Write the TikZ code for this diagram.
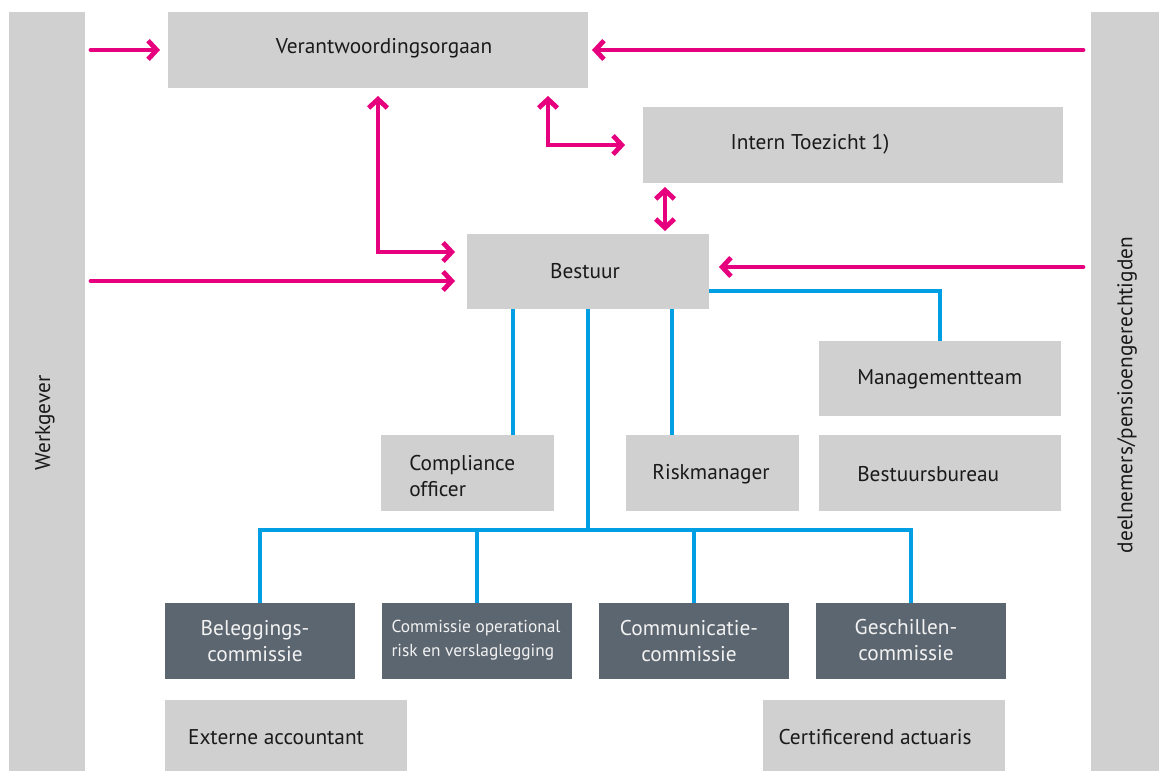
\documentclass[tikz,border=0pt]{standalone}
\usepackage{fontspec}
\setmainfont{PT Sans}
\usetikzlibrary{arrows.meta}
\definecolor{boxgray}{HTML}{D0D0D0}
\definecolor{darkbox}{HTML}{5C6670}
\definecolor{magentaline}{HTML}{E6007E}
\definecolor{blueline}{HTML}{009FE3}
\definecolor{textblack}{HTML}{1A1A1A}
\definecolor{textwhite}{HTML}{F2F2F2}
\begin{document}
\begin{tikzpicture}[x=0.75pt,y=-0.75pt,
  box/.style 2 args={fill=boxgray, draw=none, minimum width=#1, minimum height=#2, inner sep=0pt, outer sep=0pt},
  dbox/.style 2 args={fill=darkbox, draw=none, minimum width=#1, minimum height=#2, inner sep=0pt, outer sep=0pt},
  txt/.style={font=\fontsize{16}{19.5}\selectfont, text=textblack, inner sep=0pt},
  wtxt/.style={font=\fontsize{16}{19.5}\selectfont, text=textwhite, inner sep=0pt, align=center},
  stxt/.style={font=\fontsize{13}{18}\selectfont, text=textwhite, inner sep=0pt, align=left},
  marrow/.style={draw=magentaline, line width=3.6pt, line cap=round, -{Straight Barb[length=6.5pt,width=14pt]}},
  mdarrow/.style={draw=magentaline, line width=3.6pt, {Straight Barb[length=6.5pt,width=14pt]}-{Straight Barb[length=6.5pt,width=14pt]}},
  bline/.style={draw=blueline, line width=3.6pt, line join=miter}
]
\useasboundingbox (0,0) rectangle (1159,771);

% side bars
\node[box={57pt}{569.25pt}] (werk) at (47,391.5) {};
\node[box={51pt}{569.25pt}] (deel) at (1125,391.5) {};
\node[txt, rotate=90] (werk-t) at (45,423) {Werkgever};
\node[txt, rotate=90] (deel-t) at (1127,395) {deelnemers/pensioengerechtigden};

% grey boxes
\node[box={315pt}{57pt}] (vo) at (378,50) {};
\node[txt] (vo-t) at (384,48) {Verantwoordingsorgaan};
\node[box={315pt}{57pt}] (it) at (853,145) {};
\node[txt] (it-t) at (810,144) {Intern Toezicht 1)};
\node[box={181.5pt}{56.25pt}] (bestuur) at (588,271.5) {};
\node[txt] (bestuur-t) at (585,271) {Bestuur};
\node[box={181.5pt}{56.25pt}] (mt) at (940,378.5) {};
\node[txt, anchor=west] (mt-t) at (857,379) {Managementteam};
\node[box={181.5pt}{57pt}] (bb) at (940,473) {};
\node[txt, anchor=west] (bb-t) at (857,474) {Bestuursbureau};
\node[box={129.75pt}{57pt}] (co) at (467.5,473) {};
\node[txt, anchor=west, align=left] (co-t) at (409,476) {Compliance\\officer};
\node[box={129.75pt}{57pt}] (rm) at (712.5,473) {};
\node[txt] (rm-t) at (711,474) {Riskmanager};

% dark boxes
\node[dbox={142.5pt}{57pt}] (bc) at (260,641) {};
\node[wtxt] (bc-t) at (255,641) {Beleggings-\\commissie};
\node[dbox={142.5pt}{57pt}] (cor) at (477,641) {};
\node[stxt] (cor-t) at (476,640) {Commissie operational\\risk en verslaglegging};
\node[dbox={142.5pt}{57pt}] (cc) at (694,641) {};
\node[wtxt] (cc-t) at (689,641) {Communicatie-\\commissie};
\node[dbox={142.5pt}{57pt}] (gc) at (911,641) {};
\node[wtxt] (gc-t) at (906,640) {Geschillen-\\commissie};

% bottom boxes
\node[box={181.5pt}{53.25pt}] (ea) at (286,735.5) {};
\node[txt] (ea-t) at (276,737) {Externe accountant};
\node[box={181.5pt}{53.25pt}] (ca) at (884,735.5) {};
\node[txt] (ca-t) at (875,737) {Certificerend actuaris};

% magenta arrows
\draw[marrow, shorten <=4.5pt, shorten >=6pt] (werk.east |- vo.west) -- (vo.west);
\draw[marrow, shorten <=6pt, shorten >=3pt] (deel.west |- vo.east) -- (vo.east);
\draw[mdarrow, shorten <=6pt, shorten >=9pt] (vo.south -| 378,0) |- (bestuur.west |- 0,252);
\draw[mdarrow, shorten <=6pt, shorten >=13.5pt] (vo.south -| 548,0) |- (it.west);
\draw[mdarrow, shorten <=3pt, shorten >=2.25pt] (it.south -| 665,0) -- (bestuur.north -| 665,0);
\draw[marrow, shorten <=4.5pt, shorten >=9pt] (werk.east |- 0,281) -- (bestuur.west |- 0,281);
\draw[marrow, shorten <=6pt, shorten >=7.5pt] (deel.west |- 0,267) -- (bestuur.east |- 0,267);

% blue lines
\coordinate (hub) at (588,530);
\draw[bline] (bestuur.east |- 0,291) -| (mt.north);
\draw[bline] (bestuur.south -| 513,0) -- (co.north -| 513,0);
\draw[bline] (bestuur.south -| 672,0) -- (rm.north -| 672,0);
\draw[bline] (bestuur.south) -- (hub);
\draw[bline] (bc.north) |- (hub) -| (gc.north);
\draw[bline] (cor.north) -- (cor.north |- hub);
\draw[bline] (cc.north) -- (cc.north |- hub);
\end{tikzpicture}
\end{document}
